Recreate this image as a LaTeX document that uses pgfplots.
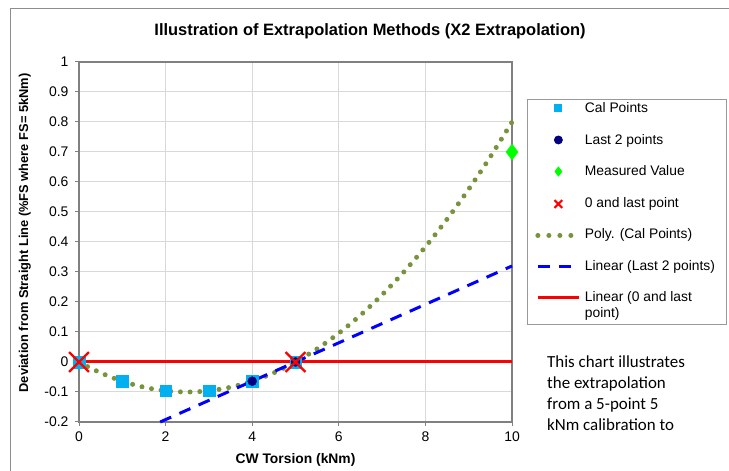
\documentclass[border=0pt]{standalone}
\usepackage{fontspec}
\setmainfont{Liberation Sans}
\newfontfamily\carlito{Carlito}
\usepackage{pgfplots}
\pgfplotsset{compat=1.18}

% Excel-like colours
\definecolor{calcyan}{HTML}{00B0F0}
\definecolor{lastnavy}{HTML}{000080}
\definecolor{measgreen}{HTML}{00FF00}
\definecolor{polyolive}{HTML}{77933C}
\definecolor{linblue}{HTML}{0000FF}
\definecolor{linred}{HTML}{FF0000}
\definecolor{framegray}{HTML}{808080}
\definecolor{gridgray}{HTML}{D9D9D9}

\begin{document}
\begin{tikzpicture}[x=1bp,y=1bp]
\useasboundingbox (0,0) rectangle (729,471);
% chart area border (cropped on the right and at the bottom)
\draw[framegray!90, line width=1bp] (10,-1) -- (10,462) -- (730,462);

\node[font=\bfseries\fontsize{16.5}{19}\selectfont] at (370,440)
  {Illustration of Extrapolation Methods (X2 Extrapolation)};

\begin{axis}[
  scale only axis, width=433bp, height=360bp,
  at={(79bp,49bp)}, anchor=south west,
  xmin=0, xmax=10, ymin=-0.2, ymax=1,
  xtick={0,2,4,6,8,10},
  ytick={-0.2,-0.1,0,0.1,0.2,0.3,0.4,0.5,0.6,0.7,0.8,0.9,1},
  yticklabels={-0.2,-0.1,0,0.1,0.2,0.3,0.4,0.5,0.6,0.7,0.8,0.9,1},
  xticklabels={0,2,4,6,8,10},
  tick pos=left, tick align=outside, major tick length=4bp,
  tick style={framegray, line width=1bp},
  tick label style={font=\fontsize{14}{16}\selectfont},
  yticklabel style={xshift=-3bp},
  xticklabel style={yshift=-2bp},
  grid=major, major grid style={gridgray, line width=1bp},
  axis line style={framegray, line width=2.8bp},
  xlabel={CW Torsion (kNm)},
  ylabel={Deviation from Straight Line (\%FS where FS= 5kNm)},
  xlabel style={font=\bfseries\fontsize{13.9}{16}\selectfont,
    at={(rel axis cs:0.5,0)}, anchor=base, yshift=-42bp},
  ylabel style={font=\bfseries\fontsize{12.9}{15}\selectfont,
    at={(rel axis cs:-0.125,0.525)}, anchor=center},
  legend image code/.code={%
    \draw[mark repeat=2, mark phase=2, #1]
      plot coordinates {(0bp,0bp) (20.5bp,0bp) (41bp,0bp)};},
  legend style={at={(rel axis cs:1.0346,0.897)}, anchor=north west,
    draw=framegray!80, line width=0.8bp, inner xsep=8bp, inner ysep=0bp,
    font=\fontsize{13.9}{16}\selectfont, row sep=11.5bp,
    nodes={text height=10bp, text depth=3bp, inner sep=3.5bp},
    cells={anchor=west}},
  legend cell align=left,
  clip=false,
]
% legend entries in Excel's order
\addlegendimage{only marks, mark=square*, mark size=3.5bp, calcyan, mark options={draw=calcyan, fill=calcyan}, yshift=2bp}
\addlegendentry{Cal Points}
\addlegendimage{only marks, mark=*, mark size=4bp, lastnavy, yshift=1bp}
\addlegendentry{Last 2 points}
\addlegendimage{only marks, mark=diamond*, mark size=4.5bp, measgreen, yshift=1bp}
\addlegendentry{Measured Value}
\addlegendimage{only marks, mark=x, mark size=5.5bp, linred, mark options={line width=2.2bp}}
\addlegendentry{0 and last point}
\addlegendimage{polyolive, line width=5bp, line cap=round, dash pattern=on 0bp off 11bp}
\addlegendentry{Poly. (Cal Points)}
\addlegendimage{linblue, line width=3bp, dash pattern=on 12bp off 9bp}
\addlegendentry{Linear (Last 2 points)}
\addlegendimage{linred, line width=3bp, yshift=9bp}
\addlegendentry[text depth=19bp]{\begin{tabular}[t]{@{}l@{}}Linear (0 and last\\point)\end{tabular}}

% Poly. (Cal Points) trendline
\addplot[forget plot, polyolive, line width=5bp, line cap=round,
  dash pattern=on 0bp off 9.7bp, smooth] coordinates {
 (0,0) (0.25,-0.019) (0.5,-0.036) (0.75,-0.051) (1,-0.064) (1.25,-0.075)
 (1.5,-0.084) (1.75,-0.091) (2,-0.096) (2.25,-0.099) (2.5,-0.1) (2.75,-0.099)
 (3,-0.096) (3.25,-0.091) (3.5,-0.084) (3.75,-0.075) (4,-0.064) (4.25,-0.051)
 (4.5,-0.036) (4.75,-0.019) (5,0) (5.5,0.044) (6,0.096) (6.5,0.156)
 (7,0.224) (7.5,0.3) (8,0.384) (8.5,0.476) (9,0.576) (9.5,0.684) (10,0.8)};

% Cal Points
\addplot[forget plot, only marks, mark=square*, mark size=5.8bp,
  mark options={draw=calcyan, fill=calcyan}] coordinates {
 (0,0) (1,-0.064) (2,-0.096) (3,-0.096) (4,-0.064) (5,0)};

% Linear (Last 2 points)
\addplot[forget plot, linblue, line width=3bp, dash pattern=on 12bp off 9bp]
  coordinates {(1.875,-0.2) (10,0.32)};

% Last 2 points
\addplot[forget plot, only marks, mark=*, mark size=4.5bp, lastnavy]
  coordinates {(4,-0.064) (5,0)};

% Linear (0 and last point)
\addplot[forget plot, linred, line width=3bp] coordinates {(0,0) (10,0)};

% Measured Value
\addplot[forget plot, only marks, mark=diamond*, mark size=8bp,
  measgreen] coordinates {(10,0.70)};

% 0 and last point
\addplot[forget plot, only marks, mark=x, mark size=14bp, linred,
  mark options={line width=2.2bp}] coordinates {(0,0) (5,0)};
\end{axis}

\node[anchor=north west, align=left, inner sep=0pt,
  font=\carlito\fontsize{17}{21}\selectfont] at (547,115)
  {This chart illustrates\\the extrapolation\\from a 5-point 5\\kNm calibration to};
\end{tikzpicture}
\end{document}
